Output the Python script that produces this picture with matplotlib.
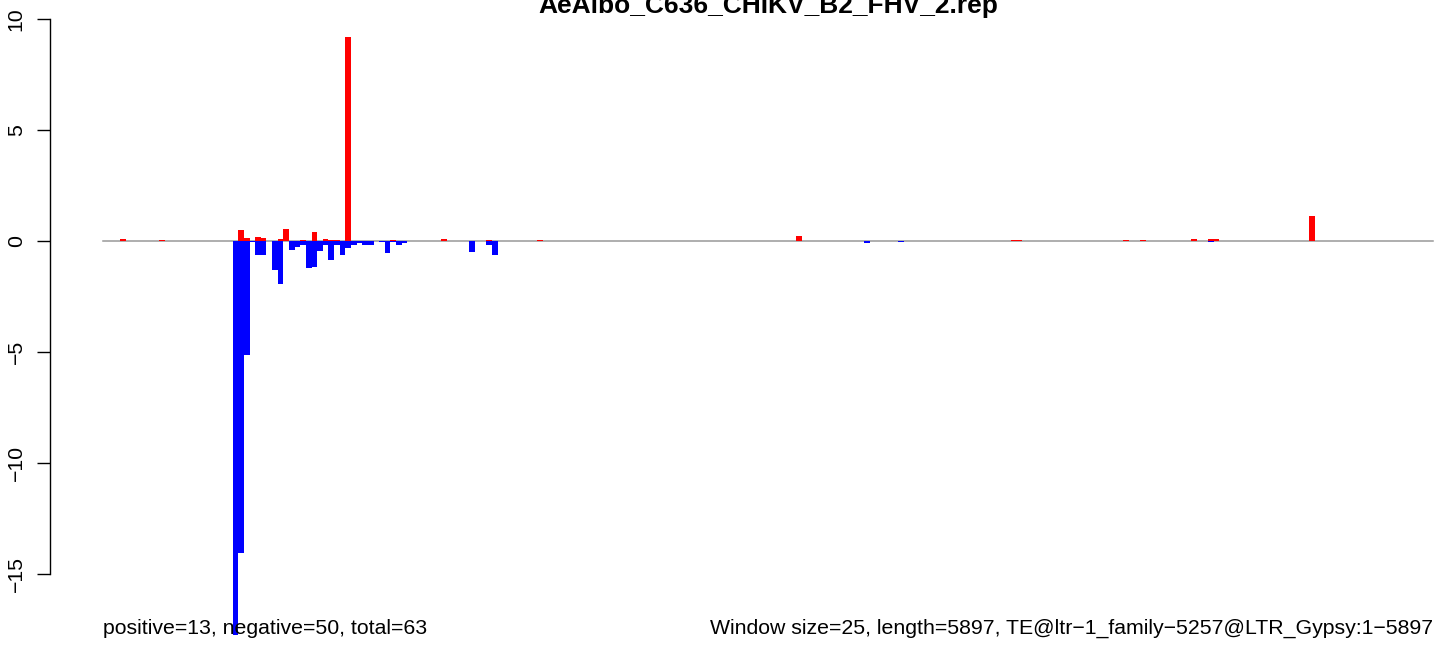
import numpy as np
import matplotlib
matplotlib.use("Agg")
import matplotlib.pyplot as plt
import matplotlib.transforms as mtransforms

# window data (window index, value)
window = 25
length = 5897

pos_bins = [3, 10, 24, 25, 27, 28, 31, 32, 35, 37, 39, 40, 41, 43, 51, 60, 68, 77,
            123, 161, 162, 181, 184, 193, 196, 197, 214]
pos_vals = [0.1, 0.05, 0.5, 0.14, 0.18, 0.14, 0.09, 0.54, 0.05, 0.39, 0.09, 0.05, 0.05,
            9.19, 0.06, 0.1, 0.06, 0.05, 0.23, 0.05, 0.05, 0.06, 0.06, 0.1, 0.1, 0.1, 1.13]

neg_bins = [23, 24, 25, 26, 27, 28, 30, 31, 33, 34, 35, 36, 37, 38, 39, 40, 41, 42, 43,
            44, 45, 46, 47, 49, 50, 51, 52, 53, 65, 68, 69, 135, 141, 196]
neg_vals = [-17.75, -14.07, -5.13, -0.05, -0.62, -0.62, -1.31, -1.93, -0.39, -0.26, -0.18,
            -1.2, -1.16, -0.44, -0.18, -0.84, -0.18, -0.62, -0.3, -0.18, -0.08, -0.17,
            -0.17, -0.05, -0.54, -0.05, -0.18, -0.09, -0.48, -0.18, -0.62, -0.08, -0.04, -0.04]

title = "AeAlbo_C636_CHIKV_B2_FHV_2.rep"
left_note = "positive=13, negative=50, total=63"
right_note = "Window size=25, length=5897, TE@ltr\u22121_family\u22125257@LTR_Gypsy:1\u22125897"
yticks = [-15, -10, -5, 0, 5, 10]

plt.rcParams['font.family'] = ['Liberation Sans', 'DejaVu Sans']

W, H = 1444, 646
fig = plt.figure(figsize=(W / 100, H / 100), dpi=100)

# plot region like R: 4% padding on x, right part falls off the picture
ax = fig.add_axes([50 / W, 0, 1436 / W, 1])
pad = 0.04 * (length - 1)
ax.set_xlim(1 - pad, length + pad)
ax.set_ylim(-18.24, 10.86)

# zero line
ax.plot([1, length], [0, 0], color='#999999', lw=1.1, zorder=1)

# bars for both strands
ax.bar(np.array(pos_bins) * window, pos_vals, width=window, align='edge',
       color='#ff0000', linewidth=0, zorder=2)
ax.bar(np.array(neg_bins) * window, neg_vals, width=window, align='edge',
       color='#0000ff', linewidth=0, zorder=2)

# axis like R: only left axis, spine from first to last tick
for s in ['top', 'right', 'bottom']:
    ax.spines[s].set_visible(False)
ax.spines['left'].set_bounds(yticks[0], yticks[-1])
ax.spines['left'].set_linewidth(1.0)
ax.set_yticks(yticks)
ax.set_xticks([])
ax.tick_params(axis='y', length=9.4, width=1.0, pad=8, labelsize=15.3, labelrotation=90)
for lab in ax.get_yticklabels():
    lab.set_va('center')

# title and footer notes
trans = mtransforms.blended_transform_factory(ax.transData, fig.transFigure)
ax.text(0.5, 1 - 13 / H, title, transform=mtransforms.blended_transform_factory(ax.transAxes, fig.transFigure),
        ha='center', va='baseline', fontsize=19, fontweight='bold')
ax.text(1, 1 - 634 / H, left_note, transform=trans, ha='left', va='baseline', fontsize=15.3)
ax.text(length, 1 - 634 / H, right_note, transform=trans, ha='right', va='baseline', fontsize=15.3)

fig.savefig("out.png", dpi=100)
